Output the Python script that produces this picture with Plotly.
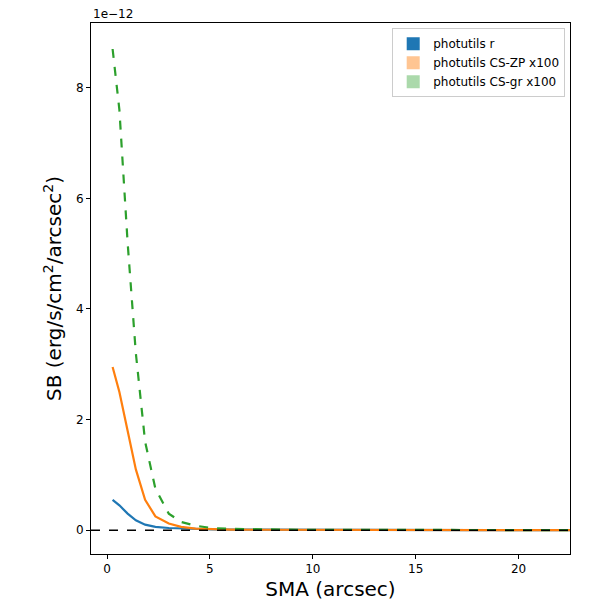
import plotly.graph_objects as go

# semi-major axis (arcsec) and surface brightness profiles (units of 1e-12)
sma = [0.27, 0.6, 1.0, 1.4, 1.85, 2.35, 3.0, 3.6, 4.3, 5.1, 6.0, 7.2, 8.6, 10.3, 12.4, 14.9, 17.9, 21.5, 25.0]
sb_r = [0.55, 0.45, 0.30, 0.18, 0.10, 0.06, 0.04, 0.03, 0.02, 0.015, 0.01, 0.008, 0.006, 0.004, 0.003, 0.002, 0.0015, 0.001, 0.001]
sb_zp = [2.95, 2.5, 1.8, 1.1, 0.55, 0.25, 0.12, 0.06, 0.03, 0.02, 0.012, 0.008, 0.006, 0.004, 0.003, 0.002, 0.0015, 0.001, 0.001]
sb_gr = [8.7, 7.6, 5.2, 3.2, 1.6, 0.75, 0.3, 0.15, 0.08, 0.04, 0.025, 0.015, 0.01, 0.007, 0.005, 0.003, 0.002, 0.0015, 0.001]

names = ["photutils r", "photutils CS-ZP x100", "photutils CS-gr x100"]
colors = ["#1f77b4", "#ff7f0e", "#2ca02c"]
legend_fill = ["#1f77b4", "rgba(255,127,14,0.45)", "rgba(44,160,44,0.4)"]
dashes = ["solid", "solid", "dash"]

fig = go.Figure()
for y, c, d in zip([sb_r, sb_zp, sb_gr], colors, dashes):
    fig.add_trace(go.Scatter(x=sma, y=y, mode="lines", line=dict(color=c, width=2.2, dash=d), showlegend=False))
# legend patches
for n, f in zip(names, legend_fill):
    fig.add_trace(go.Scatter(x=[None], y=[None], mode="markers", name=n,
                             marker=dict(symbol="square", size=13, color=f)))

fig.add_hline(y=0, line=dict(color="black", width=1.5, dash="dash"))

axis = dict(showgrid=False, zeroline=False, showline=True, linecolor="black", mirror=True,
            ticks="outside", tickcolor="black", ticklen=4, tickfont=dict(size=12, color="black"))
fig.update_xaxes(axis, range=[-0.78, 22.5], tickvals=[0, 5, 10, 15, 20],
                 title=dict(text="SMA (arcsec)", font=dict(size=20, color="black"), standoff=6))
fig.update_yaxes(axis, range=[-0.43, 9.17], tickvals=[0, 2, 4, 6, 8],
                 title=dict(text="SB (erg/s/cm<sup>2</sup>/arcsec<sup>2</sup>)", font=dict(size=20, color="black"), standoff=8))

fig.add_annotation(text="1e−12", xref="paper", yref="paper", x=0, y=1.0, xanchor="left", yanchor="bottom",
                   showarrow=False, font=dict(size=12, color="black"))

fig.update_layout(width=600, height=600, plot_bgcolor="white", paper_bgcolor="white",
                  font=dict(family="DejaVu Sans"),
                  margin=dict(l=83, r=38, t=15, b=54),
                  legend=dict(x=0.99, y=0.99, xanchor="right", yanchor="top", bordercolor="#cccccc",
                              borderwidth=1, font=dict(size=12, color="black"), bgcolor="white",
                              tracegroupgap=0, itemwidth=30))
fig.write_html("out.html")
